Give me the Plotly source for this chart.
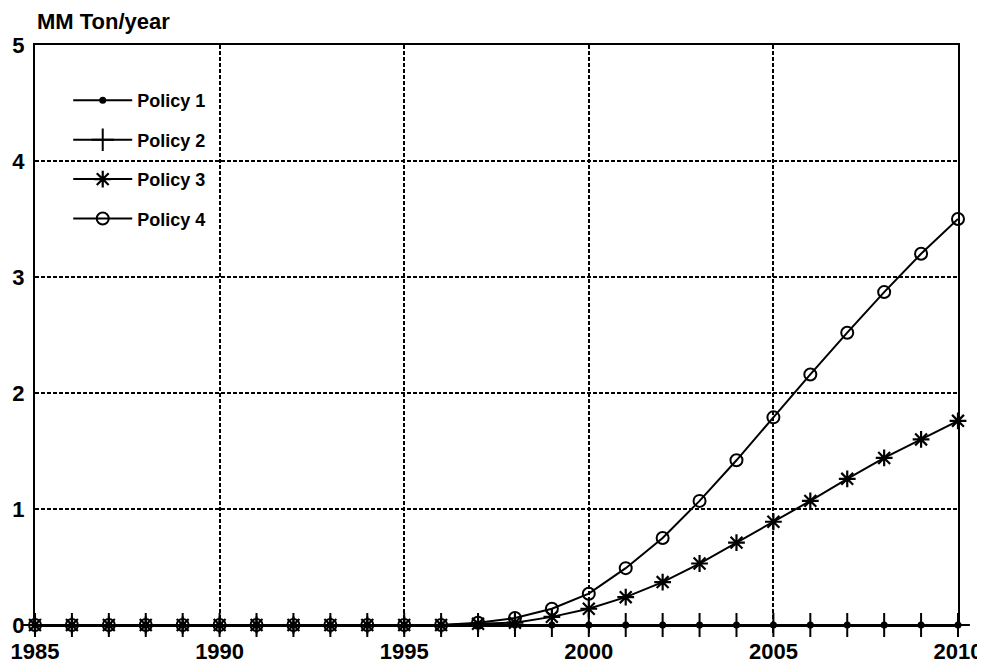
import plotly.graph_objects as go

years = [1985, 1986, 1987, 1988, 1989, 1990, 1991, 1992, 1993, 1994, 1995, 1996, 1997,
         1998, 1999, 2000, 2001, 2002, 2003, 2004, 2005, 2006, 2007, 2008, 2009, 2010]
policy1 = [0, 0, 0, 0, 0, 0, 0, 0, 0, 0, 0, 0, 0,
           0, 0, 0, 0, 0, 0, 0, 0, 0, 0, 0, 0, 0]
policy2 = [0, 0, 0, 0, 0, 0, 0, 0, 0, 0, 0, 0, 0,
           0, 0, 0, 0, 0, 0, 0, 0, 0, 0, 0, 0, 0]
policy3 = [0, 0, 0, 0, 0, 0, 0, 0, 0, 0, 0, 0, 0.01,
           0.02, 0.07, 0.14, 0.24, 0.37, 0.53, 0.71, 0.89, 1.07, 1.26, 1.44, 1.60, 1.76]
policy4 = [0, 0, 0, 0, 0, 0, 0, 0, 0, 0, 0, 0, 0.02,
           0.06, 0.14, 0.27, 0.49, 0.75, 1.07, 1.42, 1.79, 2.16, 2.52, 2.87, 3.20, 3.50]
series_names = ["Policy 1", "Policy 2", "Policy 3", "Policy 4"]
x_ticks = [1985, 1990, 1995, 2000, 2005, 2010]
y_ticks = [0, 1, 2, 3, 4, 5]
y_title = "MM Ton/year"

FONT = "Liberation Sans, Arial, sans-serif"
styles = [
    dict(symbol="circle", size=7, line=dict(width=0, color="black")),
    dict(symbol="cross-thin-open", size=17, line=dict(width=2, color="black")),
    dict(symbol="asterisk-open", size=14, line=dict(width=2.2, color="black")),
    dict(symbol="circle-open", size=12, line=dict(width=2, color="black")),
]

fig = go.Figure()
for i, (name, vals) in enumerate(zip(series_names, [policy1, policy2, policy3, policy4])):
    fig.add_trace(go.Scatter(
        x=years, y=vals, name=name, mode="lines+markers",
        line=dict(color="black", width=2),
        marker=dict(color="black", **styles[i]),
        cliponaxis=False, legendgroup=name,
    ))

# page body adds an 8px offset, so the figure is sized to fill the rest of the window
fig.update_layout(
    width=977, height=661,
    margin=dict(l=27, r=27, t=37, b=44),
    paper_bgcolor="white", plot_bgcolor="white",
    font=dict(family=FONT, size=20, color="black", weight="bold"),
    showlegend=True,
    legend=dict(x=0.036, y=0.936, xanchor="left", yanchor="top",
                bgcolor="rgba(0,0,0,0)", font=dict(size=18, weight="bold"),
                tracegroupgap=13, itemwidth=59),
    annotations=[dict(text=y_title, xref="paper", yref="paper", x=0, y=1.04,
                      xanchor="left", yanchor="middle", showarrow=False,
                      font=dict(size=22, family=FONT, weight="bold"))],
)
fig.update_xaxes(range=[1985, 2010], tickvals=x_ticks, showgrid=True,
                 gridcolor="black", griddash="4px,2px", gridwidth=1.5,
                 showline=True, mirror=True, linecolor="black", linewidth=2,
                 ticks="outside", ticklen=6, tickcolor="black", tickwidth=1.5,
                 ticklabelstandoff=0, zeroline=False, tickfont=dict(size=22),
                 automargin=False)
fig.update_yaxes(range=[0, 5], tickvals=y_ticks, showgrid=True,
                 gridcolor="black", griddash="4px,2px", gridwidth=1.5,
                 showline=True, mirror=True, linecolor="black", linewidth=2,
                 ticks="", ticklabelstandoff=4, zeroline=False, tickfont=dict(size=22),
                 automargin=False)

fig.write_html("out.html")
